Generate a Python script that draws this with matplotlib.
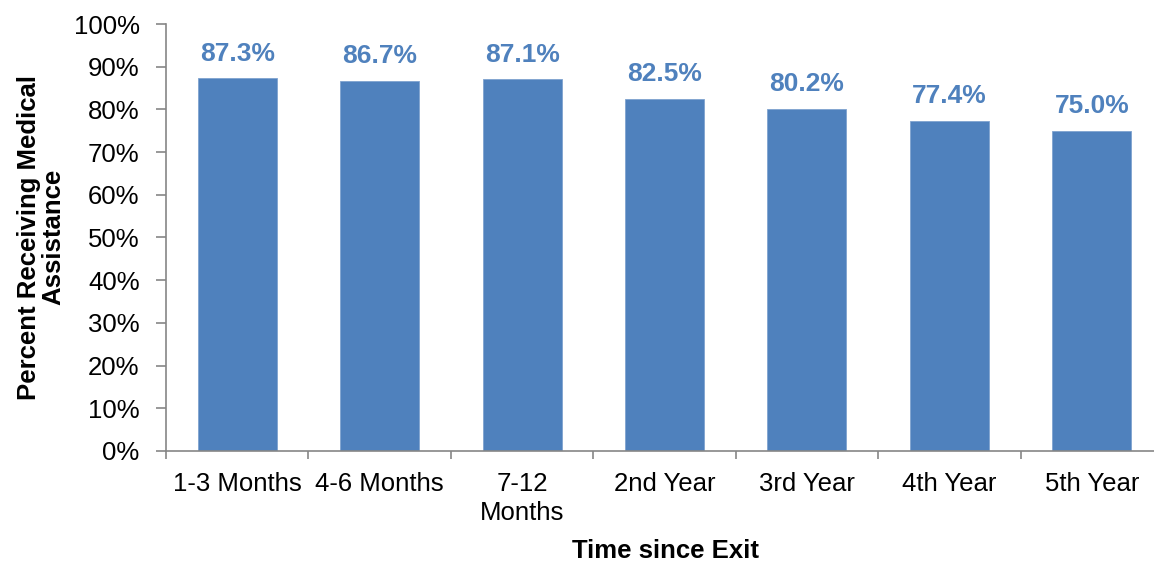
import numpy as np
import matplotlib.pyplot as plt
from matplotlib.ticker import FixedLocator, PercentFormatter

# Datos
categorias = ['1-3 Months', '4-6 Months', '7-12\nMonths', '2nd Year',
              '3rd Year', '4th Year', '5th Year']
porcentajes = [87.3, 86.7, 87.1, 82.5, 80.2, 77.4, 75.0]

plt.rcParams['font.family'] = ['Liberation Sans', 'DejaVu Sans']

color_barra = '#4F81BD'
color_eje = '#868686'

W, H = 1154, 563
fig = plt.figure(figsize=(W / 100, H / 100), dpi=100)
# el eje se extiende un poco más allá del borde derecho (como en el original)
ax = fig.add_axes([166 / W, (H - 451) / H, (1163 - 166) / W, (451 - 24) / H])

x = np.arange(len(categorias))
ax.bar(x, porcentajes, width=0.555, color=color_barra, edgecolor='#7FA3CF', linewidth=0.6)

for xi, v in zip(x, porcentajes):
    ax.annotate(f'{v:.1f}%', (xi, v), xytext=(0, 9), textcoords='offset points',
                ha='center', va='bottom', fontsize=19, fontweight='bold',
                color=color_barra)

ax.set_xlim(-0.5, len(categorias) - 0.5)
ax.set_ylim(0, 100)
ax.set_yticks(np.arange(0, 101, 10))
ax.yaxis.set_major_formatter(PercentFormatter(decimals=0))

ax.set_xticks(x)
ax.set_xticklabels(categorias, fontsize=18.5, linespacing=1.25)
ax.tick_params(axis='x', which='major', length=0, pad=15)
ax.xaxis.set_minor_locator(FixedLocator(np.arange(-0.5, len(categorias), 1.0)))
ax.tick_params(axis='x', which='minor', length=6, width=1.2, color=color_eje)
ax.tick_params(axis='y', labelsize=18.5, length=7, width=1.2, color=color_eje, pad=12)

for lado in ['top', 'right']:
    ax.spines[lado].set_visible(False)
for lado in ['left', 'bottom']:
    ax.spines[lado].set_color(color_eje)
    ax.spines[lado].set_linewidth(1.2)

fig.text(41 / W, 1 - 237 / H, 'Percent Receiving Medical\nAssistance', rotation=90,
         ha='center', va='center', fontsize=18.5, fontweight='bold', linespacing=1.0)
fig.text(665 / W, 1 - 551 / H, 'Time since Exit', ha='center', va='center',
         fontsize=18.5, fontweight='bold')

fig.savefig('out.png', dpi=100)
